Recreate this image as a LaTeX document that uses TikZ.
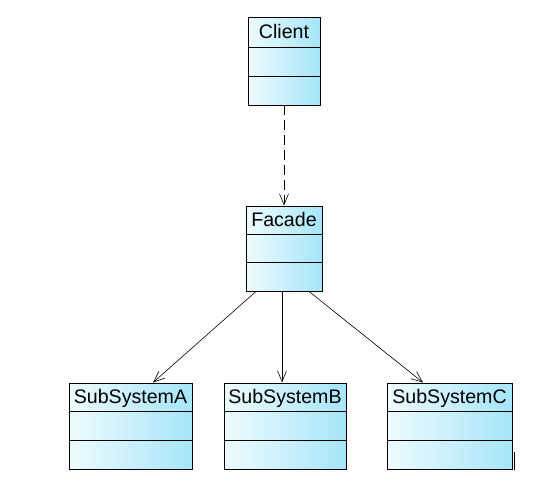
\documentclass[tikz,border=0pt]{standalone}
\usepackage{fontspec}
\setmainfont{Liberation Sans}
\usepackage{xcolor}
\usetikzlibrary{arrows.meta, positioning, calc}
\definecolor{umllight}{RGB}{238,251,254}
\definecolor{umldark}{RGB}{166,229,248}
\tikzset{
  classbox/.style={
    draw, line width=0.9pt, rectangle, inner sep=0pt,
    left color=umllight, right color=umldark,
    minimum height=86pt
  },
  classname/.style={
    font=\fontsize{19.6}{22}\selectfont, inner sep=0pt,
    text height=0.72em, text depth=0.2em
  },
  classsep/.style={line width=0.9pt},
  assocarrow/.style={
    -{Straight Barb[length=11pt, width=9pt]}, line width=0.6pt
  },
  dependarrow/.style={
    -{Straight Barb[length=11pt, width=9pt]}, line width=0.6pt,
    dash pattern=on 10pt off 5pt
  },
}
\begin{document}
\begin{tikzpicture}[x=1pt, y=-1pt]
  \useasboundingbox (0, 0) rectangle (554, 491);

  % ── Client ─────────────────────────────────────────────────────
  \node[classbox, minimum width=72pt, minimum height=88pt]
    (client) at (284, 61) {};
  \node[classname] (clientname) at ($(client.north)+(0, 19)$) {Client};
  \draw[classsep] ($(client.north west)+(0, 31)$) -- ($(client.north east)+(0, 31)$);
  \draw[classsep] ($(client.north west)+(0, 60)$) -- ($(client.north east)+(0, 60)$);

  % ── Facade ─────────────────────────────────────────────────────
  \node[classbox, minimum width=76pt, minimum height=85pt]
    (facade) at (284, 248.5) {};
  \node[classname] (facadename) at ($(facade.north)+(0, 18)$) {Facade};
  \draw[classsep] ($(facade.north west)+(0, 29)$) -- ($(facade.north east)+(0, 29)$);
  \draw[classsep] ($(facade.north west)+(0, 57)$) -- ($(facade.north east)+(0, 57)$);

  % ── Subsystems ─────────────────────────────────────────────────
  \node[classbox, minimum width=123pt] (subA) at (130.5, 426) {};
  \node[classname] (subAname) at ($(subA.north)+(0, 18)$) {SubSystemA};
  \draw[classsep] ($(subA.north west)+(0, 29)$) -- ($(subA.north east)+(0, 29)$);
  \draw[classsep] ($(subA.north west)+(0, 58)$) -- ($(subA.north east)+(0, 58)$);

  \node[classbox, minimum width=122pt] (subB) at (285, 426) {};
  \node[classname] (subBname) at ($(subB.north)+(0, 18)$) {SubSystemB};
  \draw[classsep] ($(subB.north west)+(0, 29)$) -- ($(subB.north east)+(0, 29)$);
  \draw[classsep] ($(subB.north west)+(0, 58)$) -- ($(subB.north east)+(0, 58)$);

  \node[classbox, minimum width=125pt] (subC) at (449.5, 426) {};
  \node[classname] (subCname) at ($(subC.north)+(0, 18)$) {SubSystemC};
  \draw[classsep] ($(subC.north west)+(0, 29)$) -- ($(subC.north east)+(0, 29)$);
  \draw[classsep] ($(subC.north west)+(0, 58)$) -- ($(subC.north east)+(0, 58)$);
  \draw[line width=0.8pt] ($(subC.south east)+(1.5, -17)$) -- ($(subC.south east)+(1.5, 1)$);

  % ── Connectors ─────────────────────────────────────────────────
  \draw[dependarrow] (client.south) -- (facade.north);
  \draw[assocarrow] ($(facade.south)+(-28, 0)$) -- ($(subA.north)+(22.5, 0)$);
  \draw[assocarrow] ($(facade.south)+(-2, 0)$) -- ($(subB.north)+(-3, 0)$);
  \draw[assocarrow] ($(facade.south)+(25, 0)$) -- ($(subC.north)+(-26.5, 0)$);
\end{tikzpicture}
\end{document}
